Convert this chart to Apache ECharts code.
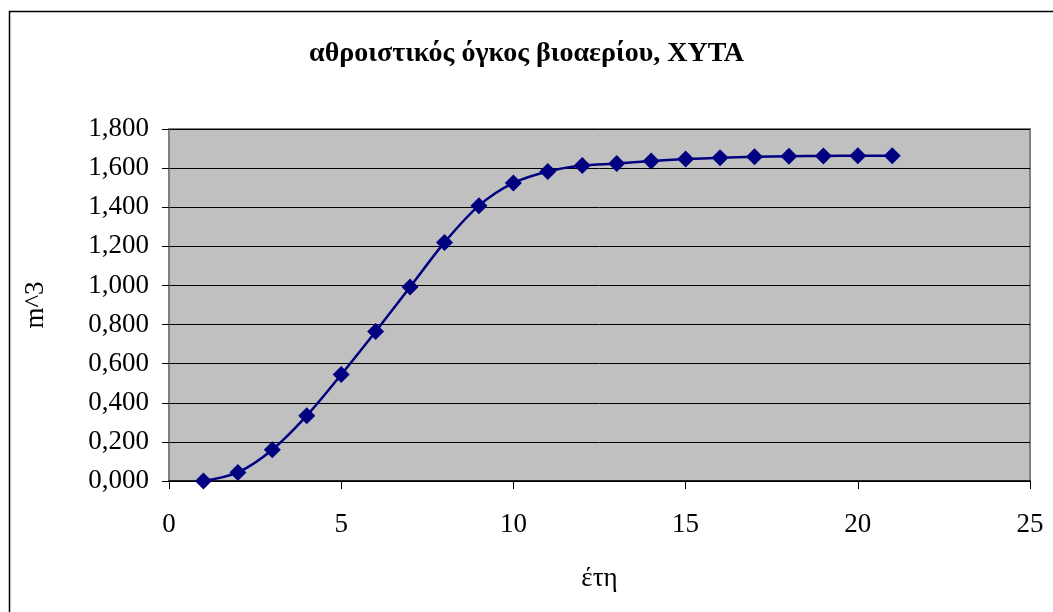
<!DOCTYPE html>
<html>
<head>
<meta charset="utf-8">
<script src="https://cdn.jsdelivr.net/npm/echarts@6/dist/echarts.min.js"></script>
<style>
html,body{margin:0;padding:0;background:#fff;}
#c{width:1053px;height:612px;}
</style>
</head>
<body>
<div id="c"></div>
<script>
const years = [1,2,3,4,5,6,7,8,9,10,11,12,13,14,15,16,17,18,19,20,21];
const volume = [0.000,0.044,0.160,0.334,0.544,0.765,0.992,1.220,1.408,1.524,1.583,1.613,1.623,1.636,1.646,1.653,1.658,1.661,1.662,1.663,1.663];
const titleText = 'αθροιστικός όγκος βιοαερίου, ΧΥΤΑ';
const xName = 'έτη';
const yName = 'm^3';

const FONT = '"Liberation Serif", "DejaVu Serif", serif';
const chart = echarts.init(document.getElementById('c'));
chart.setOption({
  backgroundColor: '#fff',
  animation: false,
  textStyle: {fontFamily: FONT},
  title: {
    text: titleText, left: 'center', top: 35,
    textStyle: {fontFamily: FONT, fontWeight: 'bold', fontSize: 28, color: '#000'}
  },
  graphic: [{
    type: 'rect', shape: {x: 9.5, y: 11.5, width: 1100, height: 700},
    style: {fill: 'none', stroke: '#000', lineWidth: 1.5}, silent: true
  }],
  grid: {
    left: 169, right: 23, top: 129, bottom: 131,
    show: true, backgroundColor: '#C0C0C0', borderColor: '#808080', borderWidth: 2
  },
  xAxis: {
    type: 'value', min: 0, max: 25, interval: 5,
    name: xName, nameLocation: 'middle', nameGap: 84,
    nameTextStyle: {fontFamily: FONT, fontSize: 27, color: '#000'},
    axisLine: {show: true, onZero: false, lineStyle: {color: '#000', width: 1.5}},
    axisTick: {show: true, inside: false, length: 8, lineStyle: {color: '#000'}},
    axisLabel: {fontFamily: FONT, fontSize: 27, color: '#000', margin: 30},
    splitLine: {show: false}
  },
  yAxis: {
    type: 'value', min: 0, max: 1.8, interval: 0.2,
    name: yName, nameLocation: 'middle', nameGap: 120, nameRotate: 90,
    nameTextStyle: {fontFamily: FONT, fontSize: 27, color: '#000'},
    axisLine: {show: true, lineStyle: {color: '#808080', width: 1.5}},
    axisTick: {show: true, inside: false, length: 7, lineStyle: {color: '#000'}},
    axisLabel: {fontFamily: FONT, fontSize: 27, color: '#000', margin: 20,
      formatter: v => v.toFixed(3).replace('.', ',')},
    splitLine: {show: true, lineStyle: {color: '#000', width: 1}}
  },
  series: [{
    type: 'line',
    data: years.map((x, i) => [x, volume[i]]),
    smooth: 0.3,
    symbol: 'diamond', symbolSize: 17,
    itemStyle: {color: '#000080'},
    lineStyle: {color: '#000080', width: 2.5}
  }]
});
</script>
</body>
</html>
